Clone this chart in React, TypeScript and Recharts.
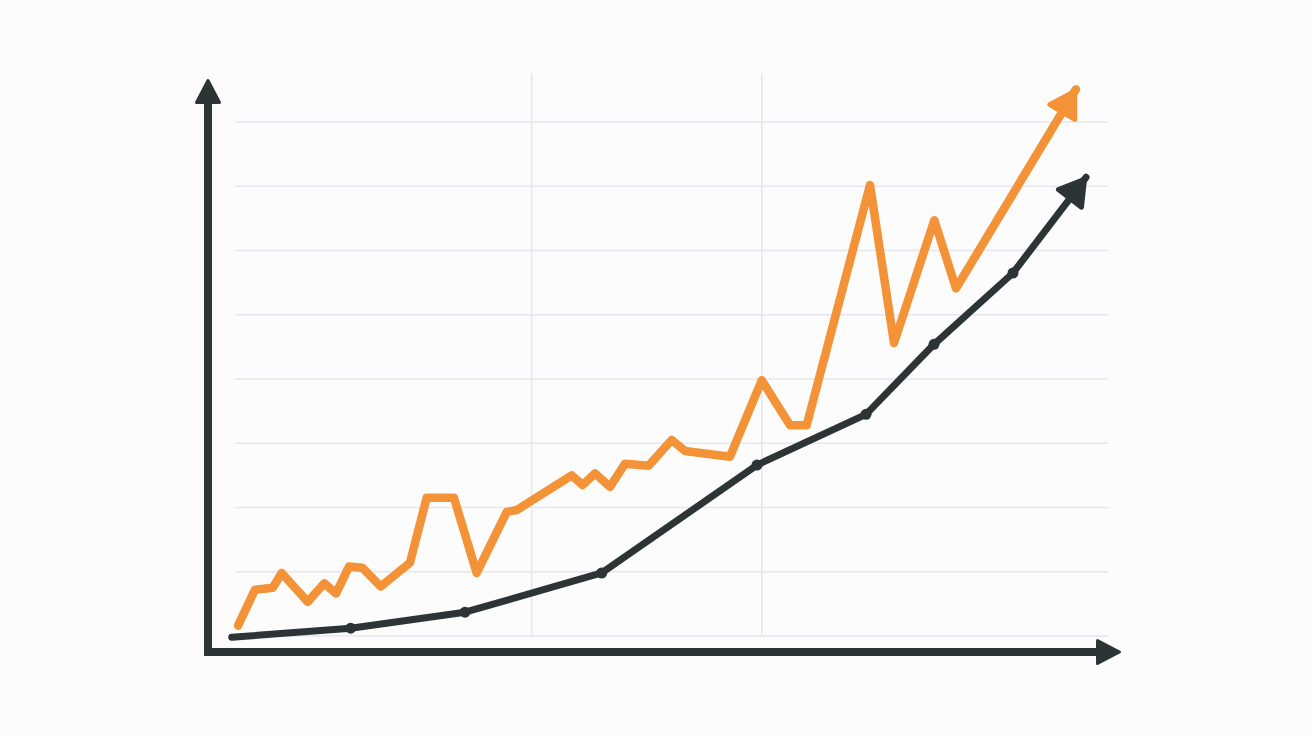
import { LineChart, Line, XAxis, YAxis, ReferenceLine } from "recharts";

// orange series (jagged)
const orangeX = [3.29, 5.15, 7.09, 8.07, 10.92, 12.74, 14.02, 15.44, 16.9, 18.92, 22.12, 23.95, 26.94, 29.43, 32.72, 33.81, 39.84, 41.04, 42.39, 44.03, 45.67, 48.26, 50.79, 52.25, 57.17, 60.65, 63.75, 65.57, 72.51, 75.14, 79.55, 81.93, 95.07];
const orangeY = [0.16, 0.72, 0.75, 0.98, 0.53, 0.82, 0.66, 1.08, 1.06, 0.77, 1.14, 2.15, 2.15, 0.98, 1.93, 1.96, 2.5, 2.35, 2.53, 2.32, 2.68, 2.65, 3.05, 2.88, 2.79, 3.98, 3.28, 3.28, 7.02, 4.56, 6.47, 5.41, 8.51];

// dark series (smooth trend)
const darkX = [2.6, 15.63, 28.15, 43.12, 60.13, 72.07, 79.52, 88.17, 96.17];
const darkY = [-0.02, 0.12, 0.37, 0.98, 2.66, 3.45, 4.54, 5.65, 7.14];

const gridY = [0, 1, 2, 3, 4, 5, 6, 7, 8];
const gridX = [35.45, 60.65];

const orangeData = orangeX.map((x, i) => ({ x, y: orangeY[i] }));
const darkData = darkX.map((x, i) => ({ x, y: darkY[i] }));

const ORANGE = "#f39237";
const DARK = "#2d3436";
const GRID = "#e6e6ee";

function arrowPoly(tx: number, ty: number, ux: number, uy: number, len: number, half: number) {
  const bx = tx - ux * len;
  const by = ty - uy * len;
  const px = -uy;
  const py = ux;
  return `${tx},${ty} ${bx + px * half},${by + py * half} ${bx - px * half},${by - py * half}`;
}

const makeDot = (color: string, n: number, midDots: boolean) => (props: any) => {
  const { cx, cy, index, points } = props;
  if (index === n - 1 && points && points[index - 1]) {
    const prev = points[index - 1];
    const dx = cx - prev.x;
    const dy = cy - prev.y;
    const d = Math.hypot(dx, dy) || 1;
    const ux = dx / d;
    const uy = dy / d;
    return (
      <polygon
        key={`a-${index}`}
        points={arrowPoly(cx - ux * 2.5, cy - uy * 2.5, ux, uy, 24, 14.5)}
        fill={color}
        stroke={color}
        strokeWidth={5}
        strokeLinejoin="round"
      />
    );
  }
  if (midDots && index > 0) {
    return <circle key={`d-${index}`} cx={cx} cy={cy} r={5.5} fill={color} />;
  }
  return <g key={`e-${index}`} />;
};

const AxisArrow = (props: any) => {
  const { x1, y1, x2, y2 } = props;
  const dx = x2 - x1;
  const dy = y2 - y1;
  const d = Math.hypot(dx, dy) || 1;
  const ux = dx / d;
  const uy = dy / d;
  const len = 24;
  return (
    <g>
      <line
        x1={x1}
        y1={y1}
        x2={x2 - ux * (len - 2)}
        y2={y2 - uy * (len - 2)}
        stroke={DARK}
        strokeWidth={8}
        strokeLinecap="square"
      />
      <polygon
        points={arrowPoly(x2 - ux * 1.5, y2 - uy * 1.5, ux, uy, len - 2, 11.5)}
        fill={DARK}
        stroke={DARK}
        strokeWidth={3}
        strokeLinejoin="round"
      />
    </g>
  );
};

export default function App() {
  return (
    <div style={{ position: "absolute", left: 0, top: 0, width: 1312, height: 736, background: "#fcfcfc" }}>
      <LineChart width={1312} height={736} margin={{ top: 79, right: 191, bottom: 84, left: 208 }}>
        <XAxis
          type="number"
          dataKey="x"
          domain={[0, 100]}
          height={0}
          axisLine={false}
          tickLine={false}
          tick={false}
        />
        <YAxis
          type="number"
          dataKey="y"
          domain={[-0.25, 8.67]}
          width={0}
          axisLine={false}
          tickLine={false}
          tick={false}
        />
        {gridY.map((v) => (
          <ReferenceLine
            key={`gy-${v}`}
            segment={[{ x: 2.96, y: v }, { x: 98.58, y: v }]}
            ifOverflow="visible"
            stroke={GRID}
            strokeWidth={1.5}
          />
        ))}
        {gridX.map((v) => (
          <ReferenceLine
            key={`gx-${v}`}
            segment={[{ x: v, y: 0 }, { x: v, y: 8.76 }]}
            ifOverflow="visible"
            stroke={GRID}
            strokeWidth={1.5}
          />
        ))}
        <ReferenceLine
          segment={[{ x: 0, y: -0.25 }, { x: 0, y: 8.67 }]}
          ifOverflow="visible"
          shape={AxisArrow}
        />
        <ReferenceLine
          segment={[{ x: 0, y: -0.25 }, { x: 100, y: -0.25 }]}
          ifOverflow="visible"
          shape={AxisArrow}
        />
        <Line
          data={darkData}
          dataKey="y"
          type="linear"
          stroke={DARK}
          strokeWidth={7}
          strokeLinecap="round"
          strokeLinejoin="round"
          dot={makeDot(DARK, darkData.length, true)}
          activeDot={false}
          isAnimationActive={false}
        />
        <Line
          data={orangeData}
          dataKey="y"
          type="linear"
          stroke={ORANGE}
          strokeWidth={8.5}
          strokeLinecap="round"
          strokeLinejoin="round"
          dot={makeDot(ORANGE, orangeData.length, false)}
          activeDot={false}
          isAnimationActive={false}
        />
      </LineChart>
    </div>
  );
}
